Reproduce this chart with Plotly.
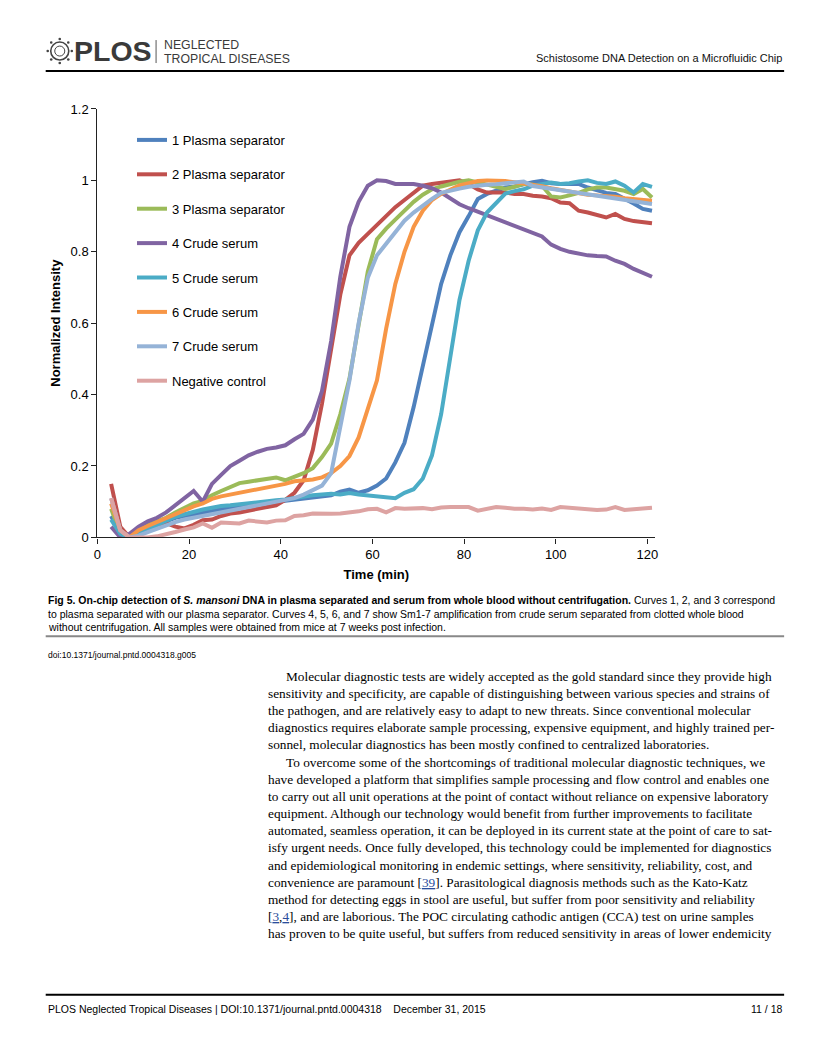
import plotly.graph_objects as go

# page is laid out in reference pixel coordinates; the figure sits inside the 8px body margin
OX, OY = 8, 8
FW, FH = 800, 1040
# measured photo transform (photo = C + S * page)
CX, SX = 5.5, 0.988
CY, SY = 6.0, 0.9869

# ---------------- data ----------------
time_min = [3, 5, 7, 9, 11, 13, 15, 17, 19, 21, 23, 25, 27, 29, 31, 33, 35, 37, 39, 41,
            43, 45, 47, 49, 51, 53, 55, 57, 59, 61, 63, 65, 67, 69, 71, 73, 75, 77, 79, 81,
            83, 85, 87, 89, 91, 93, 95, 97, 99, 101, 103, 105, 107, 109, 111, 113, 115, 117, 119, 121]

plasma_1 = [0.06, 0.01, 0.0, 0.008, 0.02, 0.035, 0.045, 0.055, 0.06, 0.065, 0.07, 0.075, 0.08, 0.083, 0.087, 0.09, 0.094, 0.097, 0.1, 0.103,
            0.106, 0.108, 0.11, 0.113, 0.118, 0.128, 0.134, 0.125, 0.132, 0.145, 0.165, 0.21, 0.265, 0.365, 0.48, 0.6, 0.71, 0.79, 0.855, 0.9,
            0.948, 0.962, 0.97, 0.98, 0.983, 0.99, 0.995, 0.999, 0.992, 0.99, 0.99, 0.99, 0.98, 0.972, 0.965, 0.962, 0.95, 0.935, 0.92, 0.915]

plasma_2 = [0.15, 0.03, 0.0, 0.01, 0.025, 0.035, 0.04, 0.03, 0.025, 0.035, 0.048, 0.05, 0.06, 0.067, 0.07, 0.075, 0.08, 0.083, 0.09, 0.105,
            0.125, 0.16, 0.245, 0.375, 0.535, 0.68, 0.79, 0.825, 0.85, 0.875, 0.9, 0.925, 0.945, 0.965, 0.985, 0.99, 0.994, 0.998, 1.0, 0.99,
            0.975, 0.966, 0.966, 0.966, 0.962, 0.962, 0.957, 0.955, 0.95, 0.938, 0.936, 0.915, 0.91, 0.903, 0.896, 0.906, 0.892, 0.886, 0.883, 0.88]

plasma_3 = [0.08, 0.01, 0.0, 0.02, 0.035, 0.045, 0.055, 0.07, 0.082, 0.095, 0.102, 0.118, 0.13, 0.142, 0.152, 0.156, 0.16, 0.164, 0.168, 0.16,
            0.17, 0.18, 0.194, 0.225, 0.263, 0.345, 0.445, 0.59, 0.745, 0.835, 0.865, 0.89, 0.915, 0.94, 0.96, 0.975, 0.983, 0.99, 0.996, 1.0,
            0.995, 0.988, 0.982, 0.976, 0.982, 0.99, 0.988, 0.985, 0.955, 0.952, 0.958, 0.965, 0.975, 0.98, 0.98, 0.976, 0.971, 0.962, 0.976, 0.952]

serum_4 = [0.03, 0.0, 0.01, 0.03, 0.045, 0.055, 0.07, 0.09, 0.11, 0.13, 0.1, 0.15, 0.175, 0.2, 0.215, 0.23, 0.24, 0.248, 0.252, 0.258,
           0.275, 0.29, 0.33, 0.41, 0.55, 0.73, 0.87, 0.94, 0.985, 1.0, 0.998, 0.99, 0.99, 0.99, 0.985, 0.978, 0.966, 0.95, 0.933, 0.922,
           0.912, 0.902, 0.892, 0.882, 0.87, 0.86, 0.85, 0.843, 0.82, 0.808, 0.8, 0.794, 0.79, 0.788, 0.787, 0.775, 0.766, 0.752, 0.74, 0.73]

serum_5 = [0.05, 0.01, 0.0, 0.01, 0.022, 0.035, 0.048, 0.058, 0.065, 0.072, 0.078, 0.083, 0.088, 0.09, 0.093, 0.096, 0.1, 0.102, 0.104, 0.106,
           0.11, 0.115, 0.118, 0.12, 0.122, 0.12, 0.124, 0.12, 0.118, 0.116, 0.113, 0.11, 0.125, 0.135, 0.165, 0.23, 0.345, 0.5, 0.665, 0.775,
           0.86, 0.91, 0.937, 0.963, 0.97, 0.975, 0.985, 0.99, 0.994, 0.99, 0.992, 0.997, 1.0, 0.993, 0.99, 0.997, 0.985, 0.966, 0.99, 0.982]

serum_6 = [0.095, 0.02, 0.0, 0.02, 0.032, 0.043, 0.055, 0.066, 0.077, 0.087, 0.095, 0.108, 0.115, 0.12, 0.125, 0.128, 0.133, 0.14, 0.145, 0.15,
           0.157, 0.16, 0.162, 0.168, 0.18, 0.2, 0.228, 0.28, 0.36, 0.44, 0.585, 0.71, 0.8, 0.87, 0.915, 0.945, 0.962, 0.975, 0.986, 0.992,
           0.998, 1.0, 1.0, 0.998, 0.995, 0.992, 0.988, 0.984, 0.978, 0.973, 0.968, 0.964, 0.96, 0.958, 0.957, 0.954, 0.95, 0.948, 0.945, 0.943]

serum_7 = [0.11, 0.02, 0.0, 0.005, 0.015, 0.025, 0.035, 0.043, 0.05, 0.055, 0.06, 0.065, 0.07, 0.075, 0.08, 0.085, 0.09, 0.096, 0.1, 0.105,
           0.11, 0.12, 0.133, 0.145, 0.18, 0.31, 0.44, 0.6, 0.727, 0.79, 0.822, 0.852, 0.887, 0.91, 0.93, 0.948, 0.965, 0.972, 0.977, 0.982,
           0.986, 0.988, 0.989, 0.991, 0.994, 0.997, 0.984, 0.98, 0.978, 0.973, 0.969, 0.965, 0.962, 0.957, 0.953, 0.95, 0.945, 0.941, 0.937, 0.934]

negative = [0.11, 0.02, 0.0, 0.0, 0.0, 0.003, 0.008, 0.015, 0.022, 0.028, 0.039, 0.027, 0.042, 0.04, 0.039, 0.047, 0.045, 0.042, 0.047, 0.048,
            0.06, 0.062, 0.067, 0.066, 0.066, 0.067, 0.07, 0.073, 0.079, 0.08, 0.07, 0.082, 0.08, 0.08, 0.082, 0.079, 0.084, 0.085, 0.085, 0.085,
            0.075, 0.08, 0.085, 0.083, 0.08, 0.08, 0.078, 0.081, 0.077, 0.085, 0.083, 0.079, 0.077, 0.077, 0.078, 0.085, 0.077, 0.08, 0.081, 0.083]

series_names = ["1 Plasma separator", "2 Plasma separator", "3 Plasma separator", "4 Crude serum",
                "5 Crude serum", "6 Crude serum", "7 Crude serum", "Negative control"]
series_values = [plasma_1, plasma_2, plasma_3, serum_4, serum_5, serum_6, serum_7, negative]
series_colors = ["#4F81BD", "#C0504D", "#9BBB59", "#8064A2", "#4BACC6", "#F79646", "#95B3D7", "#DDA3A2"]

x_ticks = [0, 20, 40, 60, 80, 100, 120]
y_ticks = [0, 0.2, 0.4, 0.6, 0.8, 1.0, 1.2]
y_tick_labels = ["0", "0.2", "0.4", "0.6", "0.8", "1", "1.2"]

# ---------------- text ----------------
header_right = "Schistosome DNA Detection on a Microfluidic Chip"
caption_lines = [
    "<b>Fig 5. On-chip detection of <i>S. mansoni</i> DNA in plasma separated and serum from whole blood without centrifugation.</b> Curves 1, 2, and 3 correspond",
    "to plasma separated with our plasma separator. Curves 4, 5, 6, and 7 show Sm1-7 amplification from crude serum separated from clotted whole blood",
    "without centrifugation. All samples were obtained from mice at 7 weeks post infection.",
]
doi_line = "doi:10.1371/journal.pntd.0004318.g005"
LINK = "<span style='color:#2a4d9c'><u>%s</u></span>"
body_lines = [
    (True, "Molecular diagnostic tests are widely accepted as the gold standard since they provide high"),
    (False, "sensitivity and specificity, are capable of distinguishing between various species and strains of"),
    (False, "the pathogen, and are relatively easy to adapt to new threats. Since conventional molecular"),
    (False, "diagnostics requires elaborate sample processing, expensive equipment, and highly trained per-"),
    (False, "sonnel, molecular diagnostics has been mostly confined to centralized laboratories."),
    (True, "To overcome some of the shortcomings of traditional molecular diagnostic techniques, we"),
    (False, "have developed a platform that simplifies sample processing and flow control and enables one"),
    (False, "to carry out all unit operations at the point of contact without reliance on expensive laboratory"),
    (False, "equipment. Although our technology would benefit from further improvements to facilitate"),
    (False, "automated, seamless operation, it can be deployed in its current state at the point of care to sat-"),
    (False, "isfy urgent needs. Once fully developed, this technology could be implemented for diagnostics"),
    (False, "and epidemiological monitoring in endemic settings, where sensitivity, reliability, cost, and"),
    (False, "convenience are paramount [" + LINK % "39" + "]. Parasitological diagnosis methods such as the Kato-Katz"),
    (False, "method for detecting eggs in stool are useful, but suffer from poor sensitivity and reliability"),
    (False, "[" + LINK % "3" + "," + LINK % "4" + "], and are laborious. The POC circulating cathodic antigen (CCA) test on urine samples"),
    (False, "has proven to be quite useful, but suffers from reduced sensitivity in areas of lower endemicity"),
]
footer_left = "PLOS Neglected Tropical Diseases | DOI:10.1371/journal.pntd.0004318&nbsp;&nbsp;&nbsp;&nbsp;December 31, 2015"
footer_right = "11 / 18"


def X(px):
    return ((px - CX) / SX - OX) / FW


def Y(py):
    return 1 - ((py - CY) / SY - OY) / FH


SANS = "Liberation Sans, Arial, sans-serif"
SERIF = "Liberation Serif, Times New Roman, serif"

fig = go.Figure()
for i, (name, vals, col) in enumerate(zip(series_names, series_values, series_colors)):
    fig.add_trace(go.Scatter(x=time_min, y=vals, mode="lines", name=name,
                             legendgroup="g%d" % i,
                             line=dict(color=col, width=4)))

annotations = []
shapes = []


def text(px, py, s, size, family=SANS, anchor="left", color="#000"):
    annotations.append(dict(x=X(px), y=Y(py), xref="paper", yref="paper", text=s,
                            showarrow=False, xanchor=anchor, yanchor="middle",
                            font=dict(family=family, size=size, color=color)))


def hline(x0, x1, y, color, width):
    shapes.append(dict(type="line", xref="paper", yref="paper", x0=X(x0), x1=X(x1), y0=Y(y), y1=Y(y),
                       line=dict(color=color, width=width)))


# header
text(73, 50, "<b>PLOS</b>", 28.5, color="#3a3a3a")
text(163, 44, "NEGLECTED", 12.3, color="#3a3a3a")
text(163, 58, "TROPICAL DISEASES", 12.3, color="#3a3a3a")
text(783, 57, header_right, 11, anchor="right", color="#111")
shapes.append(dict(type="line", xref="paper", yref="paper", x0=X(157), x1=X(157), y0=Y(39), y1=Y(62),
                   line=dict(color="#555", width=1)))
shapes.append(dict(type="circle", xref="paper", yref="paper", x0=X(52), x1=X(70), y0=Y(59), y1=Y(41),
                   line=dict(color="#444", width=1.6)))
shapes.append(dict(type="circle", xref="paper", yref="paper", x0=X(56), x1=X(66), y0=Y(55), y1=Y(45),
                   line=dict(color="#444", width=1)))
for dx, dy in [(-12, 0), (12, 0), (0, -12), (0, 12), (-8.5, -8.5), (8.5, -8.5), (-8.5, 8.5), (8.5, 8.5)]:
    cx, cy = 61 + dx, 50 + dy
    shapes.append(dict(type="circle", xref="paper", yref="paper", x0=X(cx - 1.3), x1=X(cx + 1.3),
                       y0=Y(cy + 1.3), y1=Y(cy - 1.3), fillcolor="#444", line=dict(width=0)))
hline(47, 783, 70, "#000", 2)

# caption
for i, line in enumerate(caption_lines):
    text(47, 600 + i * 13.5, line, 10.5)
hline(47, 783, 636, "#888", 2)
text(47, 655, doi_line, 8.5)

# body
for i, (indent, line) in enumerate(body_lines):
    text(285 if indent else 267, 676 + i * 17.2, line, 13.3, family=SERIF)

# footer
hline(47, 783, 995, "#000", 2)
text(47, 1009, footer_left, 10.5)
text(783, 1009, footer_right, 10.5, anchor="right")

fig.update_layout(
    width=FW, height=FH, autosize=False,
    margin=dict(l=0, r=0, t=0, b=0),
    paper_bgcolor="white", plot_bgcolor="white",
    showlegend=True,
    legend=dict(x=X(133), y=Y(124), xanchor="left", yanchor="top",
                bgcolor="rgba(0,0,0,0)", font=dict(family=SANS, size=13, color="#000"),
                tracegroupgap=14.5, itemwidth=30, traceorder="grouped"),
    xaxis=dict(domain=[X(98.5), X(654.5)], range=[0, 121.7], tickvals=x_ticks,
               showgrid=False, zeroline=False, showline=True, linecolor="#222", linewidth=1.2,
               ticks="outside", ticklen=5, tickcolor="#222",
               tickfont=dict(family=SANS, size=13, color="#000"),
               title=dict(text="<b>Time (min)</b>", font=dict(family=SANS, size=13, color="#000"), standoff=8)),
    yaxis=dict(domain=[Y(537), Y(108)], range=[0, 1.2], tickvals=y_ticks, ticktext=y_tick_labels,
               showgrid=False, zeroline=False, showline=True, linecolor="#222", linewidth=1.2,
               ticks="outside", ticklen=5, tickcolor="#222",
               tickfont=dict(family=SANS, size=13, color="#000"),
               title=dict(text="<b>Normalized Intensity</b>", font=dict(family=SANS, size=13, color="#000"), standoff=7)),
    annotations=annotations,
    shapes=shapes,
)

fig.write_html("out.html")
